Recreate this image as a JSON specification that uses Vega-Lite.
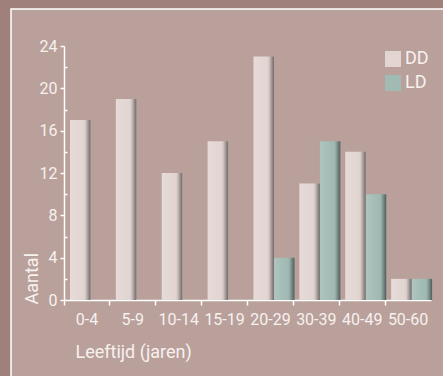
{
  "$schema": "https://vega.github.io/schema/vega-lite/v6.json",
  "autosize": {"type": "none"},
  "padding": {"left": 11, "top": 9, "right": 0, "bottom": 0},
  "width": 440,
  "height": 375,
  "background": "#a0807a",
  "config": {
    "view": {"fill": "#b9a09a", "stroke": "#ffffff", "strokeWidth": 1.5},
    "font": "Roboto",
    "axis": {
      "domainColor": "#ffffff",
      "tickColor": "#ffffff",
      "labelColor": "#f7f1f0",
      "titleColor": "#f7f1f0",
      "labelFont": "Roboto",
      "titleFont": "Roboto",
      "labelFontSize": 16,
      "titleFontSize": 18,
      "titleFontWeight": "normal",
      "grid": false,
      "domainWidth": 1.5,
      "tickWidth": 1.5
    }
  },
  "data": {
    "values": [
      {"age": "0-4", "series": "DD", "count": 17},
      {"age": "5-9", "series": "DD", "count": 19},
      {"age": "10-14", "series": "DD", "count": 12},
      {"age": "15-19", "series": "DD", "count": 15},
      {"age": "20-29", "series": "DD", "count": 23},
      {"age": "20-29", "series": "LD", "count": 4},
      {"age": "30-39", "series": "DD", "count": 11},
      {"age": "30-39", "series": "LD", "count": 15},
      {"age": "40-49", "series": "DD", "count": 14},
      {"age": "40-49", "series": "LD", "count": 10},
      {"age": "50-60", "series": "DD", "count": 2},
      {"age": "50-60", "series": "LD", "count": 2}
    ]
  },
  "encoding": {
    "x": {
      "field": "age",
      "type": "nominal",
      "sort": ["0-4", "5-9", "10-14", "15-19", "20-29", "30-39", "40-49", "50-60"],
      "scale": {"range": [53, 420], "paddingInner": 0, "paddingOuter": 0},
      "axis": {
        "orient": "bottom",
        "offset": -84,
        "labelAngle": 0,
        "bandPosition": 0,
        "tickSize": 5,
        "labelPadding": 6,
        "title": "Leeftijd (jaren)",
        "titleX": 64,
        "titleY": 57,
        "titleAlign": "left",
        "titleAnchor": null,
        "titleBaseline": "alphabetic"
      }
    },
    "xOffset": {
      "field": "series",
      "type": "nominal",
      "scale": {"range": [6, 47], "paddingInner": 0, "paddingOuter": 0}
    },
    "y": {
      "field": "count",
      "type": "quantitative",
      "scale": {"domain": [0, 24], "range": [291, 37], "nice": false, "zero": true},
      "axis": {
        "orient": "left",
        "offset": -53,
        "values": [0, 2, 4, 6, 8, 10, 12, 14, 16, 18, 20, 22, 24],
        "labelExpr": "datum.value % 4 === 0 ? datum.label : ''",
        "tickSize": {"condition": {"test": "datum.value % 4 === 0", "value": 4}, "value": -3},
        "labelPadding": 3,
        "title": "Aantal",
        "titleX": -27,
        "titleY": 295,
        "titleAngle": -90,
        "titleAlign": "left",
        "titleAnchor": null,
        "titleBaseline": "alphabetic"
      }
    }
  },
  "layer": [
    {
      "mark": {"type": "bar"},
      "encoding": {
        "color": {
          "field": "series",
          "type": "nominal",
          "scale": {"domain": ["DD", "LD"], "range": ["#e2d5d2", "#a1bab4"]},
          "legend": {
            "title": null,
            "orient": "none",
            "legendX": 373,
            "legendY": 41,
            "padding": 0,
            "symbolType": "square",
            "symbolSize": 256,
            "symbolStrokeWidth": 0,
            "symbolOpacity": 1,
            "labelFontSize": 18,
            "labelColor": "#f7f1f0",
            "labelFont": "Roboto",
            "labelOffset": 3,
            "rowPadding": 6
          }
        }
      }
    },
    {
      "mark": {
        "type": "bar",
        "fill": {
          "gradient": "linear",
          "x1": 0, "y1": 0, "x2": 1, "y2": 0,
          "stops": [
            {"offset": 0, "color": "rgba(255,255,255,0.15)"},
            {"offset": 0.6, "color": "rgba(255,255,255,0)"},
            {"offset": 0.75, "color": "rgba(0,0,0,0.05)"},
            {"offset": 1, "color": "rgba(0,0,0,0.5)"}
          ]
        }
      },
      "encoding": {}
    }
  ]
}
